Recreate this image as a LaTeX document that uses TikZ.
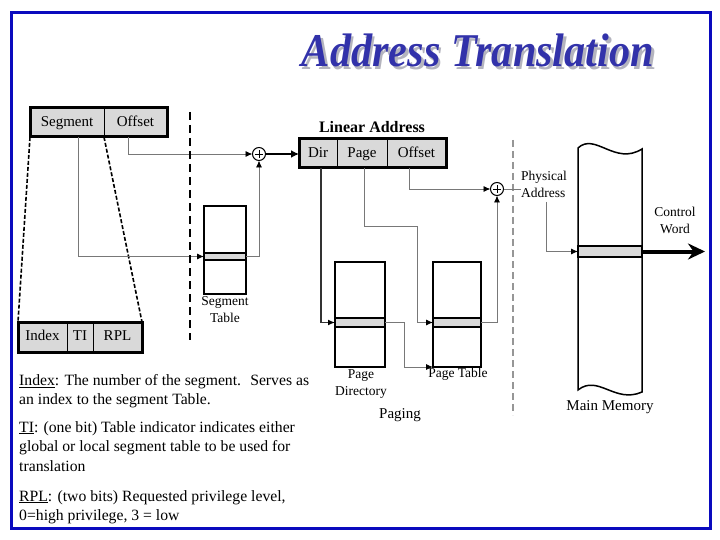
\documentclass[tikz,border=0pt]{standalone}
\usepackage{fontspec}
\usepackage{graphicx}
\setmainfont{Liberation Serif}
\usetikzlibrary{arrows.meta}
\definecolor{framecol}{RGB}{10,10,190}
\definecolor{titlecol}{RGB}{50,50,170}
\definecolor{shadowcol}{RGB}{180,180,190}
\definecolor{fieldgray}{RGB}{217,217,217}
\definecolor{conngray}{RGB}{120,120,120}
\definecolor{dashgray}{RGB}{150,150,150}
\newcommand{\titletext}{\scalebox{0.9}[1]{\fontsize{47}{47}\selectfont\bfseries\itshape Address Translation}}
\begin{document}
\begin{tikzpicture}[x=1pt,y=-1pt,
  field/.style={draw, line width=1pt, fill=fieldgray, inner sep=0pt, outer sep=0pt, text height=10.5pt, text depth=3pt, font=\fontsize{15}{18}\selectfont},
  tablebox/.style={draw, line width=1.5pt, fill=white, inner sep=0pt, outer sep=0pt},
  bandbox/.style={draw, line width=1.5pt, fill=fieldgray, inner sep=0pt, outer sep=0pt},
  lbl/.style={font=\fontsize{13.5}{17}\selectfont, align=center, inner sep=0pt},
  biglbl/.style={font=\fontsize{15}{18}\selectfont, inner sep=0pt},
  para/.style={font=\fontsize{15.7}{19.5}\selectfont, align=left, inner sep=0pt, anchor=north west},
  conn/.style={draw=conngray, line width=0.9pt, -{Latex[length=7pt,width=6pt,color=black]}},
  connk/.style={draw=black!80, line width=1.2pt, -{Latex[length=7pt,width=6pt,color=black]}},
  connplain/.style={draw=conngray, line width=0.9pt},
  thickarrow/.style={draw=black, line width=2.5pt, -{Latex[length=8pt,width=8pt]}},
  plusnode/.style={circle, draw, line width=1pt, fill=white, minimum size=13pt, inner sep=0pt, outer sep=0pt,
    path picture={\draw[line width=0.7pt] ([xshift=-4pt]path picture bounding box.center) -- ([xshift=4pt]path picture bounding box.center);
                  \draw[line width=0.7pt] ([yshift=-4pt]path picture bounding box.center) -- ([yshift=4pt]path picture bounding box.center);}},
  bigdash/.style={line width=2pt, dash pattern=on 8pt off 5pt},
  zoomdash/.style={line width=1.6pt, dash pattern=on 4pt off 2pt},
  greydash/.style={draw=dashgray, line width=1.5pt, dash pattern=on 7pt off 4pt}
]
\useasboundingbox (0,0) rectangle (720,540);
\fill[white] (0,0) rectangle (720,540);
\draw[framecol, line width=3pt] (11,13) rectangle (710,528);

% title with drop shadow in one node
\node[anchor=base, inner sep=0pt] (title) at (478,67) {\makebox[0pt][l]{\hspace{2.5pt}\raisebox{-2.5pt}{\color{shadowcol}\titletext}}\textcolor{titlecol}{\titletext}};

% logical address fields
\node[field, minimum width=74pt, minimum height=29pt] (seg) at (67,122.5) {Segment};
\node[field, minimum width=63pt, minimum height=29pt] (off) at (135.5,122.5) {Offset};
\draw[line width=3pt] (seg.north west) rectangle (off.south east);

% selector fields
\node[field, minimum width=49pt, minimum height=30pt] (idx) at (42.5,337) {Index};
\node[field, minimum width=26pt, minimum height=30pt] (ti) at (80,337) {TI};
\node[field, minimum width=49pt, minimum height=30pt] (rpl) at (117.5,337) {RPL};
\draw[line width=3pt] (idx.north west) rectangle (rpl.south east);

\draw[zoomdash] (seg.south west) -- (idx.north west);
\draw[zoomdash] (off.south west) -- (rpl.north east);

% segment table
\node[tablebox, minimum width=42pt, minimum height=88pt] (segtab) at (225,250) {};
\node[bandbox, minimum width=42pt, minimum height=7pt] (segband) at (225,256.5) {};
\node[lbl] (segtablbl) at (225,310) {Segment\\Table};

% adders
\node[plusnode] (plus1) at (259,154) {};
\node[plusnode] (plus2) at (497,189) {};

% linear address
\node[field, minimum width=38pt, minimum height=29pt] (dir) at (318,153.5) {Dir};
\node[field, minimum width=50pt, minimum height=29pt] (page) at (362,153.5) {Page};
\node[field, minimum width=59pt, minimum height=29pt] (loff) at (416.5,153.5) {Offset};
\draw[line width=3pt] (dir.north west) rectangle (loff.south east);
\node[biglbl, font=\fontsize{16}{18}\selectfont\bfseries] (linlbl) at (372,127) {Linear Address};

% page directory and page table
\node[tablebox, minimum width=50pt, minimum height=105pt] (pd) at (360,314.5) {};
\node[bandbox, minimum width=50pt, minimum height=9pt] (pdband) at (360,322.5) {};
\node[tablebox, minimum width=48pt, minimum height=105pt] (pt) at (457,314.5) {};
\node[bandbox, minimum width=48pt, minimum height=9pt] (ptband) at (457,322.5) {};
\node[lbl] (pdlbl) at (361,384) {Page\\Directory};
\node[lbl] (ptlbl) at (458,374) {Page Table};
\node[biglbl] (paging) at (400,415) {Paging};

% main memory
\draw[line width=1.5pt, fill=white] (578,148) .. controls (595,132) and (615,166) .. (642,149) -- (642,392) .. controls (615,404) and (598,374) .. (578,390) -- cycle;
\node[bandbox, minimum width=64pt, minimum height=11pt] (memband) at (610,251.5) {};
\node[biglbl] (mmlbl) at (610,407) {Main Memory};
\node[lbl] (cwlbl) at (675,220) {Control\\Word};
\node[lbl, anchor=west, align=left] (phys) at (521,184.5) {Physical\\Address};

% dashed separators
\coordinate (dashAtop) at (190,112);
\coordinate (dashAbot) at (190,340);
\coordinate (dashBtop) at (513,140);
\coordinate (dashBbot) at (513,415);
\draw[greydash] (dashBtop) -- (dashBbot);

% connectors
\coordinate (segout) at (78,137);
\coordinate (offout) at (128,137);
\draw[conn] (segout) |- (segband.west);
\draw[conn] (offout) |- (plus1.west);
\draw[conn] (segband.east) -| (plus1.south);
\draw[thickarrow] (plus1.east) -- (plus1.east -| dir.west);
\draw[bigdash] (dashAtop) -- (dashAbot);

\coordinate (dirout) at (321,168);
\coordinate (pageout) at (364,168);
\coordinate (pageturn) at (417,226);
\coordinate (loffout) at (409,168);
\coordinate (pdturn) at (404,367);
\coordinate (physout) at (546,202);
\coordinate (cwend) at (705,251.5);
\draw[connk] (dirout) |- (pdband.west);
\draw[conn] (pageout) |- (pageturn) |- (ptband.west);
\draw[conn] (loffout) |- (plus2.west);
\draw[conn] (pdband.east) -| (pdturn) -- (pt.south west);
\draw[conn] (ptband.east) -| (plus2.south);
\draw[connplain] (plus2.east) -- (plus2.east -| phys.west);
\draw[conn] (physout) |- (memband.west);
\draw[line width=4pt, -{Stealth[length=17pt,width=16pt]}] (memband.east) -- (cwend);

% descriptions
\node[para] (descidx) at (19,374) {\underline{Index}: The number of the segment.~ Serves as\\an index to the segment Table.};
\node[para] (descti) at (19,421) {\underline{TI}: (one bit) Table indicator indicates either\\global or local segment table to be used for\\translation};
\node[para] (descrpl) at (19,490) {\underline{RPL}: (two bits) Requested privilege level,\\0=high privilege, 3 = low};
\end{tikzpicture}
\end{document}
